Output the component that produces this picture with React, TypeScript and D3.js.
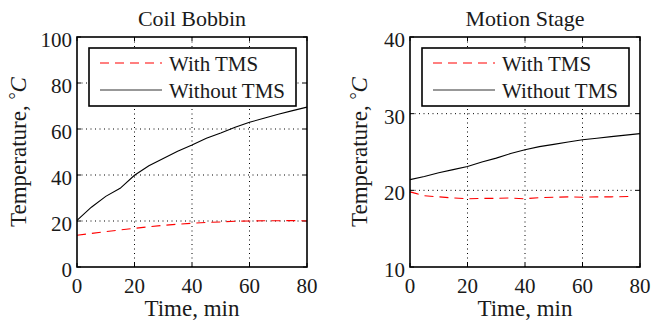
import React from 'react'
import * as d3 from 'd3'

// readings taken every 5 minutes
const minutes = [0, 5, 10, 15, 20, 25, 30, 35, 40, 45, 50, 55, 60, 65, 70, 75, 80]

// Coil Bobbin
const coilWithout = [20.3, 26, 30.7, 34.2, 39.9, 44, 47.2, 50.3, 53, 56, 58.3, 60.8, 62.9, 64.7, 66.4, 68, 69.5]
const coilWith = [13.8, 14.6, 15.4, 16.1, 16.8, 17.5, 18.1, 18.6, 19.0, 19.4, 19.6, 19.9, 20.0, 20.1, 20.1, 20.2, 20.0]

// Motion Stage
const stageWithout = [21.4, 21.8, 22.3, 22.7, 23.1, 23.7, 24.2, 24.8, 25.3, 25.7, 26.0, 26.3, 26.6, 26.8, 27.0, 27.2, 27.4]
const stageWithMinutes = [0, 2, 5, 10, 15, 20, 25, 30, 35, 40, 45, 50, 55, 60, 65, 70, 77]
const stageWith = [19.8, 19.6, 19.3, 19.15, 19.0, 18.9, 18.95, 18.95, 19.0, 18.9, 19.05, 19.1, 19.15, 19.1, 19.15, 19.15, 19.2]

const xTicks = [0, 20, 40, 60, 80]
const coilTicks = [0, 20, 40, 60, 80, 100]
const stageTicks = [10, 20, 30, 40]

const legendLabels = ['With TMS', 'Without TMS']

const FONT = 'Liberation Serif'
const RED = '#ff0000'
const DASH = '9,6'
const INK = '#1a1a1a'

const panels = [
    {
        title: 'Coil Bobbin', left: 77, yDomain: [0, 100], yTicks: coilTicks, labelX: 26,
        withX: minutes, withY: coilWith, withoutY: coilWithout,
    },
    {
        title: 'Motion Stage', left: 410, yDomain: [10, 40], yTicks: stageTicks, labelX: 367,
        withX: stageWithMinutes, withY: stageWith, withoutY: stageWithout,
    },
]

const top = 37, size = 230

type P = typeof panels[number]

function Panel({ p }: { p: P }) {
    const x = d3.scaleLinear().domain([0, 80]).range([p.left, p.left + size])
    const y = d3.scaleLinear().domain(p.yDomain).range([top + size, top])
    const line = d3.line<[number, number]>().x(d => x(d[0])).y(d => y(d[1]))
    const without = line(minutes.map((m, i) => [m, p.withoutY[i]] as [number, number])) || ''
    const withT = line(p.withX.map((m, i) => [m, p.withY[i]] as [number, number])) || ''
    const lx = p.left + 12, ly = 48
    const txt = { fontFamily: FONT, fill: INK }

    return (
        <g>
            {/* dotted grid */}
            {xTicks.slice(1, -1).map(t => (
                <line key={'gx' + t} x1={x(t)} x2={x(t)} y1={top} y2={top + size}
                    stroke="#000" strokeWidth={1} strokeDasharray="1,3.5" />
            ))}
            {p.yTicks.slice(1, -1).map(t => (
                <line key={'gy' + t} x1={p.left} x2={p.left + size} y1={y(t)} y2={y(t)}
                    stroke="#000" strokeWidth={1} strokeDasharray="1,3.5" />
            ))}
            {/* inner ticks */}
            {xTicks.map(t => (
                <g key={'tx' + t} stroke="#000">
                    <line x1={x(t)} x2={x(t)} y1={top + size} y2={top + size - 4} />
                    <line x1={x(t)} x2={x(t)} y1={top} y2={top + 4} />
                </g>
            ))}
            {p.yTicks.map(t => (
                <g key={'ty' + t} stroke="#000">
                    <line x1={p.left} x2={p.left + 4} y1={y(t)} y2={y(t)} />
                    <line x1={p.left + size} x2={p.left + size - 4} y1={y(t)} y2={y(t)} />
                </g>
            ))}

            <path d={without} fill="none" stroke="#000" strokeWidth={1.1} />
            <path d={withT} fill="none" stroke={RED} strokeWidth={1.1} strokeDasharray={DASH} />

            <rect x={p.left} y={top} width={size} height={size} fill="none" stroke="#000" strokeWidth={1.6} />

            {xTicks.map(t => (
                <text key={'lx' + t} x={x(t)} y={293} textAnchor="middle" style={{ ...txt, fontSize: 21 }}>{t}</text>
            ))}
            {p.yTicks.map(t => (
                <text key={'ly' + t} x={p.left - 5} y={y(t) + 10} textAnchor="end" style={{ ...txt, fontSize: 21 }}>{t}</text>
            ))}

            <text x={p.left + size / 2} y={26} textAnchor="middle" style={{ ...txt, fontSize: 22 }}>{p.title}</text>
            <text x={p.left + size / 2} y={316} textAnchor="middle" style={{ ...txt, fontSize: 23 }}>Time, min</text>
            <text transform={`translate(${p.labelX},${top + size / 2}) rotate(-90)`} textAnchor="middle"
                style={{ ...txt, fontSize: 23 }}>
                <tspan>Temperature, </tspan>
                <tspan dy={-4} style={{ fontSize: 18 }}>°</tspan>
                <tspan dy={4} style={{ fontStyle: 'italic' }}>C</tspan>
            </text>

            <rect x={lx} y={ly} width={207} height={58} fill="#fff" stroke="#000" strokeWidth={1.6} />
            {legendLabels.map((label, i) => {
                const yy = ly + 15 + i * 27
                return (
                    <g key={label}>
                        <line x1={lx + 11} x2={lx + 73} y1={yy} y2={yy} stroke={i === 0 ? RED : '#333'}
                            strokeWidth={1.1} strokeDasharray={i === 0 ? DASH : undefined} />
                        <text x={lx + 80} y={yy + 8} style={{ ...txt, fontSize: 21 }}>{label}</text>
                    </g>
                )
            })}
        </g>
    )
}

export default function App() {
    return (
        <svg width={654} height={321} style={{ position: 'absolute', left: 0, top: 0, background: '#fff' }}>
            {panels.map(p => <Panel key={p.title} p={p} />)}
        </svg>
    )
}
